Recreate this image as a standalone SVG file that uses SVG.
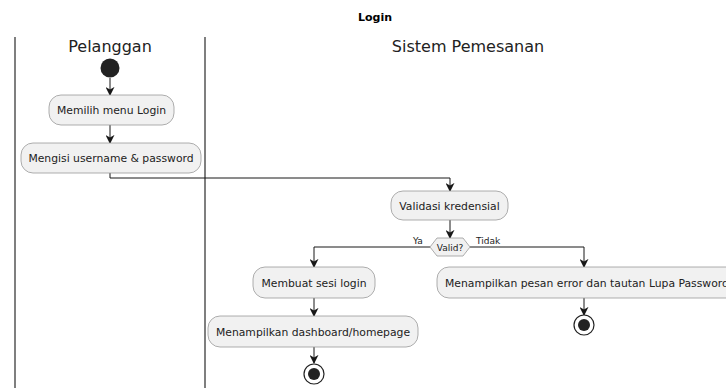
<svg xmlns="http://www.w3.org/2000/svg" width="726" height="388" viewBox="0 0 726 388">
  <style>
    text { font-family: "DejaVu Sans", "Liberation Sans", sans-serif; fill: #000; }
    .title { font-size: 11px; font-weight: bold; }
    .lane { font-size: 16px; fill: #222; }
    .act rect { fill: #F1F1F1; stroke: #999; stroke-width: 0.8; }
    .act text { font-size: 10.8px; text-anchor: middle; fill: #222; }
    .lbl { font-size: 9px; fill: #222; }
    .edge { fill: none; stroke: #181818; stroke-width: 1; }
    .sep { stroke: #555; stroke-width: 1.5; }
  </style>
  <defs>
    <marker id="arrow" viewBox="0 0 10 10" refX="9" refY="5" markerWidth="9" markerHeight="9" orient="auto" markerUnits="userSpaceOnUse">
      <path d="M0,0 L10,5 L0,10 L3,5 Z" fill="#181818"/>
    </marker>
  </defs>
  <rect width="726" height="388" fill="#fff"/>

  <text class="title" x="375" y="21" text-anchor="middle">Login</text>

  <!-- swimlanes -->
  <g id="lanes">
    <line class="sep" x1="15" y1="37" x2="15" y2="388"/>
    <line class="sep" x1="205" y1="37" x2="205" y2="388"/>
    <text class="lane" x="110" y="52" text-anchor="middle">Pelanggan</text>
    <text class="lane" x="468" y="52" text-anchor="middle">Sistem Pemesanan</text>
  </g>

  <!-- connectors -->
  <g id="connectors">
    <path class="edge" d="M110,78 V95" marker-end="url(#arrow)"/>
    <path class="edge" d="M110,125 V143" marker-end="url(#arrow)"/>
    <path class="edge" d="M110,173 V178 H450 V191" marker-end="url(#arrow)"/>
    <path class="edge" d="M450,220 V238" marker-end="url(#arrow)"/>
    <path class="edge" d="M430,247 H314 V267" marker-end="url(#arrow)"/>
    <path class="edge" d="M470,247 H584 V267" marker-end="url(#arrow)"/>
    <path class="edge" d="M314,298 V316" marker-end="url(#arrow)"/>
    <path class="edge" d="M314,347 V363" marker-end="url(#arrow)"/>
    <path class="edge" d="M584,298 V315" marker-end="url(#arrow)"/>
    <text class="lbl" x="413" y="244">Ya</text>
    <text class="lbl" x="476" y="244">Tidak</text>
  </g>

  <g id="start">
    <circle cx="110" cy="68" r="9.5" fill="#222"/>
  </g>

  <g id="memilih-menu-login" class="act">
    <rect x="49" y="95" width="125" height="30" rx="12"/>
    <text x="111.5" y="114">Memilih menu Login</text>
  </g>

  <g id="mengisi-username" class="act">
    <rect x="21" y="143" width="180" height="30" rx="12"/>
    <text x="111" y="162">Mengisi username &amp; password</text>
  </g>

  <g id="validasi-kredensial" class="act">
    <rect x="391" y="191" width="117" height="29" rx="12"/>
    <text x="449.5" y="209.5">Validasi kredensial</text>
  </g>

  <g id="valid-decision" class="act">
    <polygon points="430,247 437,238 463,238 470,247 463,256 437,256" fill="#F1F1F1" stroke="#999" stroke-width="0.8"/>
    <text x="450" y="250.5" style="font-size:9px">Valid?</text>
  </g>

  <g id="membuat-sesi-login" class="act">
    <rect x="253" y="267" width="122" height="31" rx="12"/>
    <text x="314" y="286.5">Membuat sesi login</text>
  </g>

  <g id="menampilkan-dashboard" class="act">
    <rect x="208" y="316" width="210" height="31" rx="12"/>
    <text x="313" y="335.5">Menampilkan dashboard/homepage</text>
  </g>

  <g id="menampilkan-error" class="act">
    <rect x="437" y="267" width="305" height="31" rx="12"/>
    <text x="445" y="286.5" style="text-anchor:start">Menampilkan pesan error dan tautan Lupa Password</text>
  </g>

  <g id="end-success">
    <circle cx="314" cy="374" r="10" fill="#fff" stroke="#222" stroke-width="1.2"/>
    <circle cx="314" cy="374" r="6" fill="#222"/>
  </g>

  <g id="end-error">
    <circle cx="584" cy="325" r="10" fill="#fff" stroke="#222" stroke-width="1.2"/>
    <circle cx="584" cy="325" r="6" fill="#222"/>
  </g>
</svg>
